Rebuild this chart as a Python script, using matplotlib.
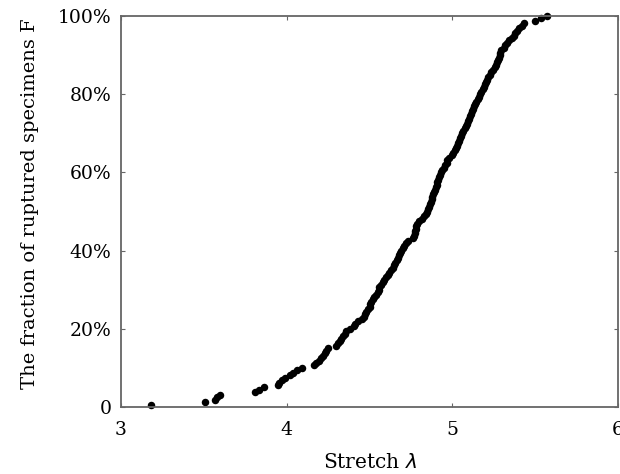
import numpy as np
import matplotlib

matplotlib.use("Agg")
import matplotlib.pyplot as plt
from matplotlib.ticker import FixedLocator, FixedFormatter

# sorted rupture stretches (one per specimen)
stretch = [
    3.18, 3.51, 3.57, 3.58, 3.595, 3.81, 3.835, 3.865, 3.945, 3.955,
    3.97, 3.99, 4.02, 4.04, 4.065, 4.095, 4.165, 4.18, 4.195, 4.205,
    4.22, 4.23, 4.24, 4.25, 4.30, 4.31, 4.32, 4.33, 4.34, 4.35,
    4.36, 4.385, 4.405, 4.415, 4.43, 4.455, 4.465, 4.475, 4.48, 4.49,
    4.50, 4.505, 4.51, 4.52, 4.53, 4.54, 4.55, 4.555, 4.56, 4.57,
    4.58, 4.59, 4.60, 4.61, 4.62, 4.63, 4.64, 4.645, 4.655, 4.665,
    4.675, 4.68, 4.685, 4.69, 4.70, 4.71, 4.72, 4.73, 4.765, 4.77,
    4.775, 4.775, 4.78, 4.78, 4.785, 4.80, 4.815, 4.83, 4.84, 4.85,
    4.855, 4.86, 4.865, 4.87, 4.875, 4.88, 4.885, 4.89, 4.895, 4.90,
    4.905, 4.91, 4.915, 4.92, 4.925, 4.93, 4.94, 4.95, 4.955, 4.965,
    4.97, 4.98, 4.995, 5.005, 5.015, 5.02, 5.03, 5.035, 5.04, 5.045,
    5.05, 5.06, 5.065, 5.075, 5.08, 5.09, 5.095, 5.10, 5.105, 5.11,
    5.12, 5.125, 5.13, 5.135, 5.145, 5.155, 5.16, 5.17, 5.175, 5.185,
    5.19, 5.20, 5.205, 5.21, 5.215, 5.225, 5.235, 5.245, 5.255, 5.265,
    5.27, 5.275, 5.28, 5.285, 5.29, 5.295, 5.31, 5.32, 5.33, 5.345,
    5.36, 5.37, 5.38, 5.39, 5.405, 5.42, 5.43, 5.50, 5.535, 5.57,
]

x_ticks = [3, 4, 5, 6]
y_ticks = [0, 0.2, 0.4, 0.6, 0.8, 1.0]
y_tick_labels = ["0", "20%", "40%", "60%", "80%", "100%"]

# empirical fraction ruptured: rank / number of specimens
x = np.sort(np.array(stretch))
frac = np.arange(1, len(x) + 1) / len(x)

plt.rcParams["font.family"] = ["DejaVu Serif"]

fig = plt.figure(figsize=(6.2, 4.74), dpi=100)
ax = fig.add_axes([121 / 620, 1 - 407 / 474, 497 / 620, 391 / 474])

ax.plot(x, frac, "o", color="black", ms=5.4, mew=0, clip_on=False)

ax.set_xlim(3, 6)
ax.set_ylim(0, 1)
ax.xaxis.set_major_locator(FixedLocator(x_ticks))
ax.yaxis.set_major_locator(FixedLocator(y_ticks))
ax.yaxis.set_major_formatter(FixedFormatter(y_tick_labels))
ax.tick_params(direction="in", length=3, width=0.8, color="#666666",
               top=True, right=True, labelsize=13.5, pad=7)
ax.tick_params(axis="x", pad=10)

for sp in ax.spines.values():
    sp.set_color("#666666")
    sp.set_linewidth(1.3)

ax.set_xlabel(r"Stretch $\lambda$", fontsize=14.5, labelpad=10)
ax.set_ylabel("The fraction of ruptured specimens F", fontsize=14)
ax.yaxis.set_label_coords(-0.165, 0.52)

fig.savefig("out.png", dpi=100)
